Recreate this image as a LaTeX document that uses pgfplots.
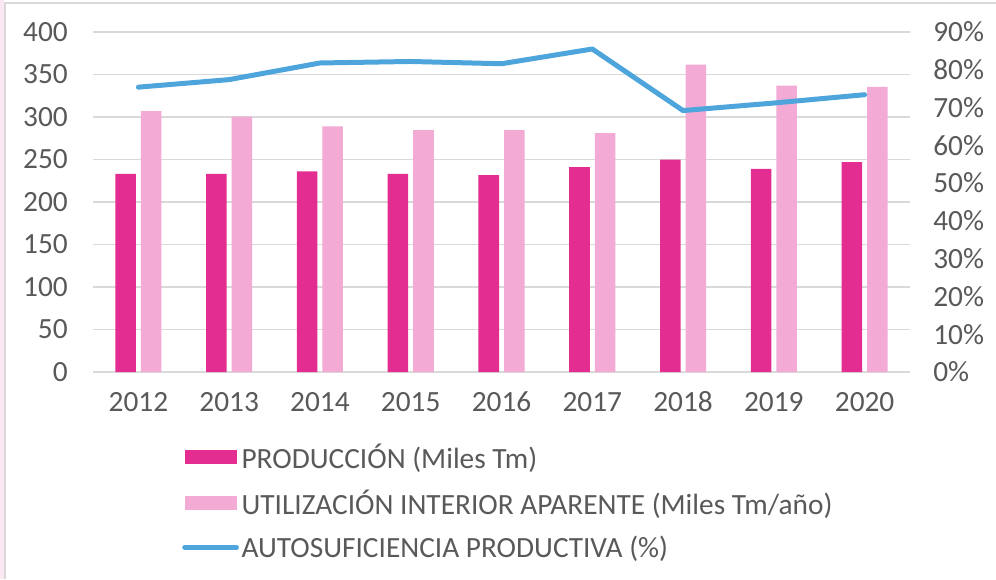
\documentclass[border=0pt]{standalone}
\usepackage{fontspec}
\setmainfont{Carlito}
\usepackage{pgfplots}
\pgfplotsset{compat=1.18}
\definecolor{prodpink}{RGB}{227,45,145}
\definecolor{utilpink}{RGB}{243,170,212}
\definecolor{autoblue}{RGB}{78,165,220}
\definecolor{gridgray}{RGB}{217,217,217}
\definecolor{txtgray}{RGB}{89,89,89}
\definecolor{edgepink}{RGB}{252,232,242}

\begin{document}
\begin{tikzpicture}
% 1px = 0.75pt; fixed page box matching 996x579
\useasboundingbox (-69.75pt,-155.25pt) rectangle (677.25pt,279pt);
\fill[edgepink] (-69.75pt,-155.25pt) rectangle (-66.75pt,279pt);
\draw[gridgray, line width=1.5pt] (-66pt,-155.25pt) -- (-66pt,277.1pt) -- (677.25pt,277.1pt);
\begin{axis}[
    at={(0pt,0pt)}, anchor=south west,
    scale only axis, width=612.75pt, height=255pt,
    xmin=-0.5, xmax=8.5, ymin=0, ymax=400,
    ybar=3.75pt, bar width=15.4pt,
    xtick=data,
    xticklabels={2012,2013,2014,2015,2016,2017,2018,2019,2020},
    ytick={0,50,...,400},
    axis y line*=left, axis x line*=bottom,
    axis line style={draw=none},
    major tick length=0pt,
    ymajorgrids, grid style={gridgray, line width=1.1pt},
    /pgf/number format/assume math mode=true,
    tick label style={font=\fontsize{22}{26}\selectfont, text=txtgray, inner sep=0pt},
    yticklabel style={anchor=east, xshift=-18.75pt},
    xticklabel style={anchor=north, yshift=-15.75pt, text height=14pt, text depth=0pt},
    legend style={at={(0.104,-0.195)}, anchor=north west, draw=none, fill=none,
        font=\fontsize{22}{26}\selectfont, text=txtgray, row sep=10.5pt,
        cells={anchor=west}, legend cell align=left},
]
\addplot[fill=prodpink, draw=none,
    legend image code/.code={\fill[prodpink] (0pt,-5.25pt) rectangle (39pt,5.25pt);}]
    coordinates {(0,233) (1,233) (2,236) (3,233) (4,231.5) (5,241) (6,250) (7,239) (8,247)};
\addlegendentry{PRODUCCIÓN (Miles Tm)}
\addplot[fill=utilpink, draw=none,
    legend image code/.code={\fill[utilpink] (0pt,-5.25pt) rectangle (39pt,5.25pt);}]
    coordinates {(0,307) (1,300.5) (2,289) (3,284.5) (4,284.5) (5,281) (6,361.5) (7,337) (8,335.5)};
\addlegendentry{UTILIZACIÓN INTERIOR APARENTE (Miles Tm/año)}
\addlegendimage{legend image code/.code={\draw[autoblue, line width=3.5pt, line cap=round] (0pt,0pt) -- (39pt,0pt);}}
\addlegendentry{AUTOSUFICIENCIA PRODUCTIVA (\%)}
\end{axis}
\begin{axis}[
    at={(0pt,0pt)}, anchor=south west,
    scale only axis, width=612.75pt, height=255pt,
    xmin=-0.5, xmax=8.5, ymin=0, ymax=90,
    axis y line*=right, axis x line=none,
    axis line style={draw=none},
    major tick length=0pt,
    ytick={0,10,...,90},
    yticklabels={0\%,10\%,20\%,30\%,40\%,50\%,60\%,70\%,80\%,90\%},
    tick label style={font=\fontsize{22}{26}\selectfont, text=txtgray, inner sep=0pt},
    yticklabel style={anchor=west, xshift=17.25pt},
]
\addplot[autoblue, line width=3.75pt, line cap=round, line join=round, mark=none]
    coordinates {(0,75.4) (1,77.4) (2,81.8) (3,82.2) (4,81.6) (5,85.5) (6,69.2) (7,71.2) (8,73.4)};
\end{axis}
\end{tikzpicture}
\end{document}
